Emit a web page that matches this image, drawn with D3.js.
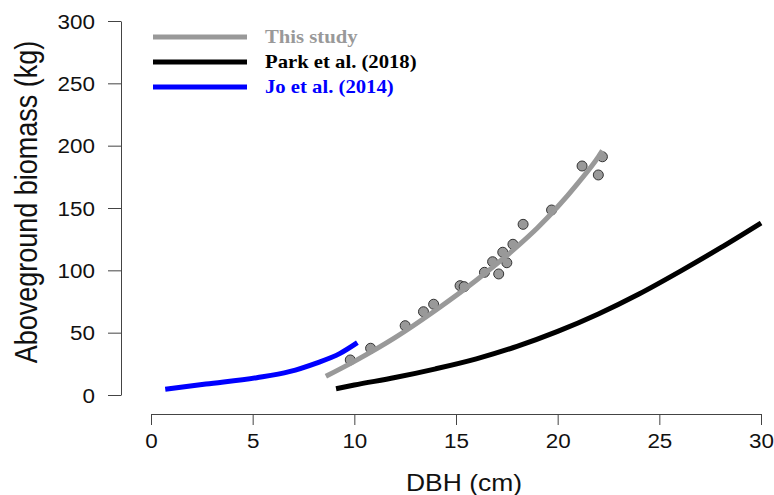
<!DOCTYPE html>
<html>
<head>
<meta charset="utf-8">
<script src="https://cdn.jsdelivr.net/npm/d3@7/dist/d3.min.js"></script>
<style>
  html, body { margin: 0; padding: 0; background: #fff; }
  svg { display: block; }
</style>
</head>
<body>
<svg id="chart" width="774" height="495"></svg>
<script>
// Observed trees: DBH (cm) and aboveground biomass (kg)
const obsDBH = [9.8, 10.8, 12.5, 13.4, 13.9, 15.2, 15.4, 16.4, 16.8, 17.1, 17.3, 17.5, 17.8, 18.3, 19.7, 21.2, 22.0, 22.2];
const obsAGB = [28.1, 37.5, 55.6, 66.8, 72.8, 87.7, 86.9, 98.4, 106.9, 97.1, 114.5, 106.1, 120.9, 136.9, 148.4, 183.7, 176.5, 191.1];

// Allometric curves (DBH, biomass) for each source
const studyDBH = [8.6, 10, 12, 14, 16, 18, 19, 20, 21, 22, 22.2];
const studyAGB = [15, 27, 46, 68, 92, 119, 134, 151, 170, 191, 196];

const parkDBH = [9.1, 10, 12, 14, 16, 18, 20, 22, 24, 26, 28, 30];
const parkAGB = [5, 8, 14, 21, 29, 39, 51, 65, 81, 99, 118, 138];

const joDBH = [0.7, 2.7, 5.2, 6.8, 8.1, 9.3, 10.15];
const joAGB = [4.6, 8.8, 13.9, 18.7, 25.4, 33.4, 42];

const seriesNames = ["This study", "Park et al. (2018)", "Jo et al. (2014)"];
const seriesColors = ["#999999", "#000000", "#0000ff"];

const xTicks = [0, 5, 10, 15, 20, 25, 30];
const yTicks = [0, 50, 100, 150, 200, 250, 300];

const svg = d3.select("#chart");
const SX = 1.15; // horizontal text stretch

const x = d3.scaleLinear().domain([0, 30]).range([151, 761]);
const y = d3.scaleLinear().domain([0, 300]).range([395, 21]);

const sans = "'Liberation Sans', Arial, Helvetica, sans-serif";
const serif = "'Liberation Serif', 'Times New Roman', serif";

// Y axis
const yAxis = svg.append("g")
  .attr("transform", "translate(121,0)")
  .call(d3.axisLeft(y).tickValues(yTicks).tickSize(13).tickSizeOuter(0));
yAxis.selectAll("path, line").attr("stroke", "#444").attr("stroke-width", 1);
yAxis.selectAll("text")
  .attr("x", null).attr("dy", null)
  .attr("transform", `translate(-26,7) scale(${SX},1)`)
  .attr("font-family", sans).attr("font-size", 19.5).attr("fill", "#111")
  .attr("text-anchor", "end");

// X axis
const xAxis = svg.append("g")
  .attr("transform", "translate(0,414)")
  .call(d3.axisBottom(x).tickValues(xTicks).tickSize(11).tickSizeOuter(0));
xAxis.selectAll("path, line").attr("stroke", "#444").attr("stroke-width", 1);
xAxis.selectAll("text")
  .attr("y", null).attr("dy", null)
  .attr("transform", `translate(0,34) scale(${SX},1)`)
  .attr("font-family", sans).attr("font-size", 19.5).attr("fill", "#111")
  .attr("text-anchor", "middle");

// Axis titles
svg.append("text")
  .attr("transform", `translate(37,202) scale(${SX},1) rotate(-90)`)
  .attr("text-anchor", "middle")
  .attr("font-family", sans).attr("font-size", 27).attr("fill", "#111")
  .text("Aboveground biomass (kg)");

svg.append("text")
  .attr("transform", `translate(464,491) scale(${SX},1)`)
  .attr("text-anchor", "middle")
  .attr("font-family", sans).attr("font-size", 23).attr("fill", "#111")
  .text("DBH (cm)");

const line = d3.line().x(d => x(d[0])).y(d => y(d[1])).curve(d3.curveMonotoneX);

// Reference curves
svg.append("path")
  .datum(joDBH.map((d, i) => [d, joAGB[i]]))
  .attr("d", line).attr("fill", "none")
  .attr("stroke", seriesColors[2]).attr("stroke-width", 5);

svg.append("path")
  .datum(parkDBH.map((d, i) => [d, parkAGB[i]]))
  .attr("d", line).attr("fill", "none")
  .attr("stroke", seriesColors[1]).attr("stroke-width", 5);

// Observations
svg.append("g").selectAll("circle")
  .data(obsDBH.map((d, i) => [d, obsAGB[i]]))
  .join("circle")
  .attr("cx", d => x(d[0])).attr("cy", d => y(d[1])).attr("r", 5)
  .attr("fill", "#999999").attr("stroke", "#333").attr("stroke-width", 1);

// Fitted curve of this study
svg.append("path")
  .datum(studyDBH.map((d, i) => [d, studyAGB[i]]))
  .attr("d", line).attr("fill", "none")
  .attr("stroke", seriesColors[0]).attr("stroke-width", 5);

// Legend
const legend = svg.append("g");
seriesNames.forEach((name, i) => {
  const ly = 37 + i * 25;
  legend.append("line")
    .attr("x1", 153).attr("x2", 247).attr("y1", ly).attr("y2", ly)
    .attr("stroke", seriesColors[i]).attr("stroke-width", 5);
  legend.append("text")
    .attr("transform", `translate(265,${ly + 5.5}) scale(${SX},1)`)
    .attr("font-family", serif).attr("font-weight", "bold").attr("font-size", 18)
    .attr("fill", seriesColors[i])
    .text(name);
});
</script>
</body>
</html>
